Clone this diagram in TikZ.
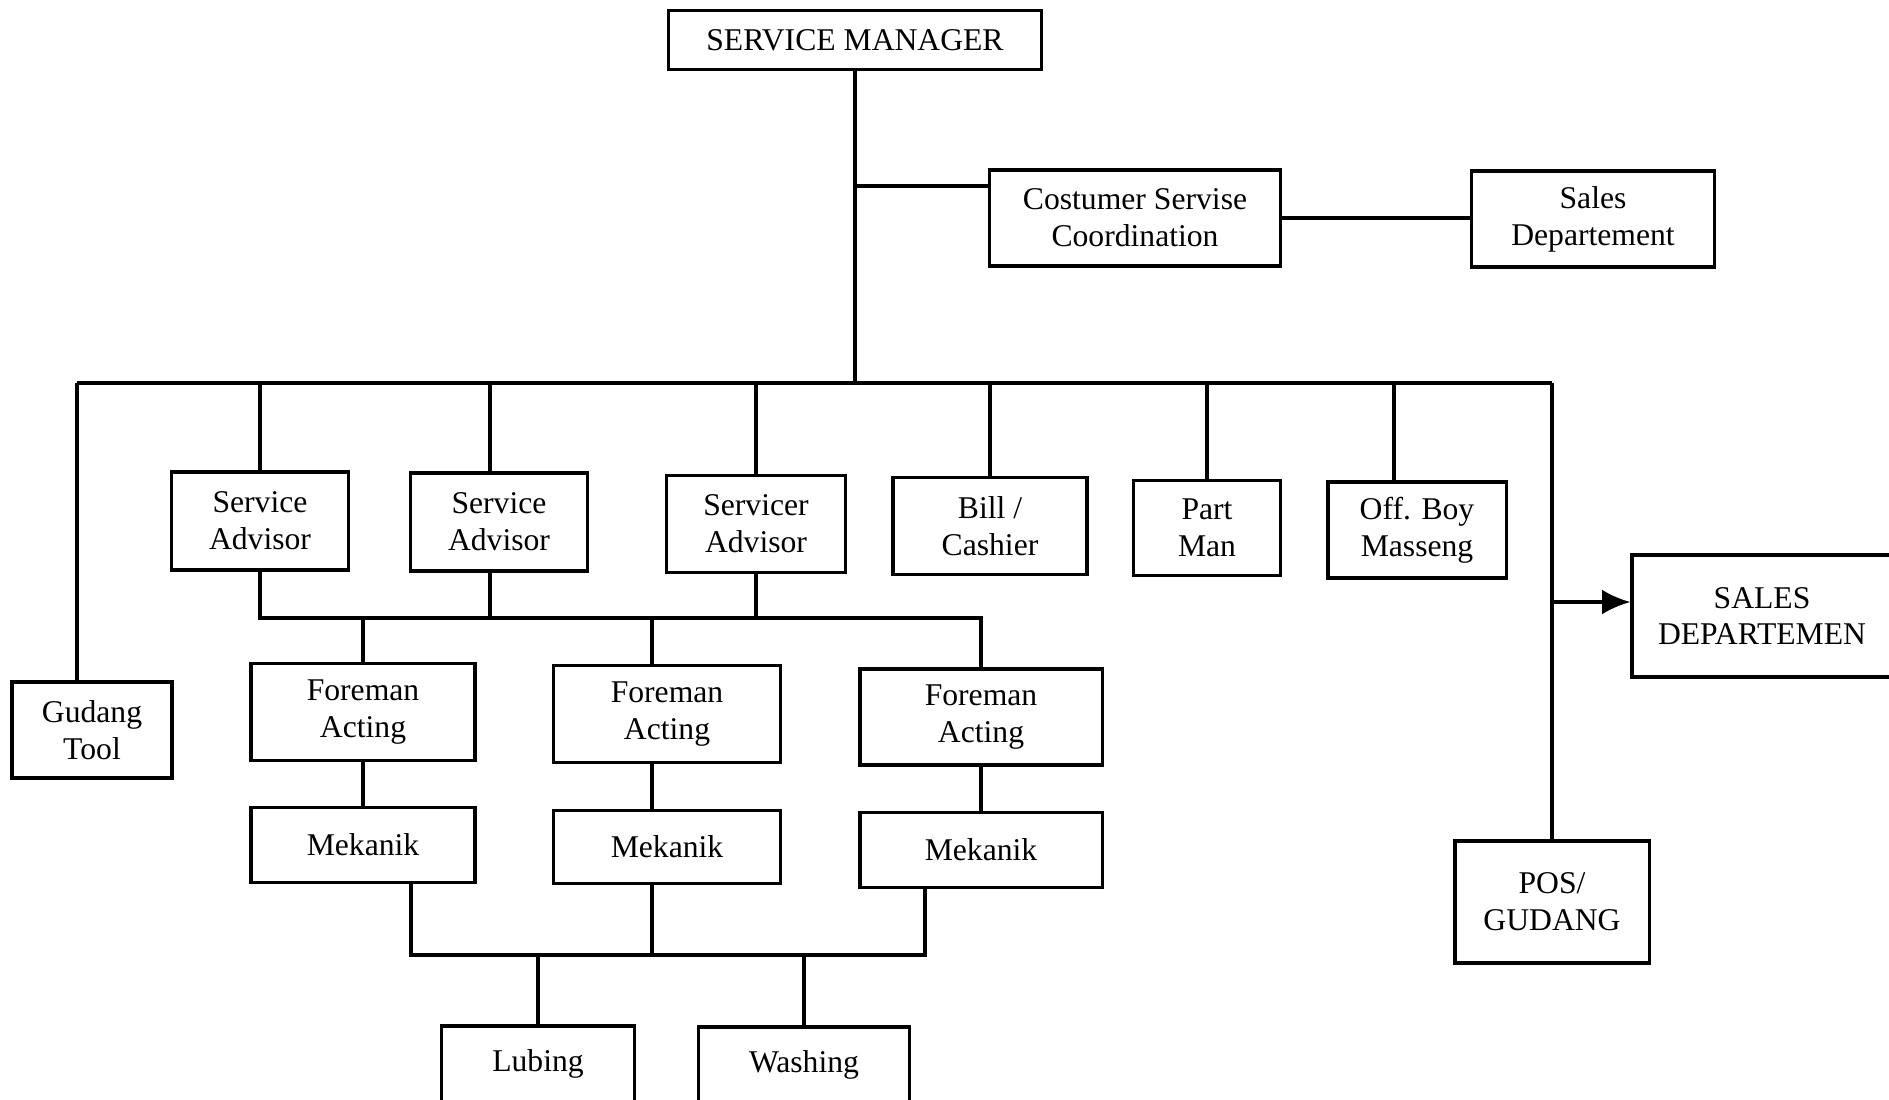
\documentclass[tikz,border=0pt]{standalone}
\usepackage{fontspec}
\setmainfont{Liberation Serif}
\usetikzlibrary{arrows.meta}

\begin{document}
\begin{tikzpicture}[x=0.01cm, y=-0.01cm, line width=0.9pt,
    box/.style={draw, line width=0.9pt, align=center, inner sep=0pt,
        font=\fontsize{9}{10.5}\selectfont}]
    \useasboundingbox (0,0) rectangle (1889,1099);
    % top
    \node (mgr) at (855,40) [box, minimum width=3.72cm, minimum height=0.59cm] {SERVICE MANAGER};
    \node (cust) at (1135,218) [box, minimum width=2.91cm, minimum height=0.96cm] {Costumer Servise\\Coordination};
    \node (sales) at (1593,219) [box, minimum width=2.43cm, minimum height=0.96cm] {Sales\\Departement};
    % first row
    \node (tool) at (92,730) [box, minimum width=1.60cm, minimum height=0.96cm] {Gudang\\Tool};
    \node (adv1) at (260,521) [box, minimum width=1.77cm, minimum height=0.98cm] {Service\\Advisor};
    \node (adv2) at (499,522) [box, minimum width=1.77cm, minimum height=0.98cm] {Service\\Advisor};
    \node (adv3) at (756,524) [box, minimum width=1.79cm, minimum height=0.97cm] {Servicer\\Advisor};
    \node (bill) at (990,526) [box, minimum width=1.94cm, minimum height=0.97cm] {Bill /\\Cashier};
    \node (part) at (1207,528) [box, minimum width=1.47cm, minimum height=0.95cm] {Part\\Man};
    \node (boy) at (1417,530) [box, minimum width=1.78cm, minimum height=0.96cm] {Off. Boy\\Masseng};
    \node (dept) at (1762,616) [box, minimum width=2.60cm, minimum height=1.22cm] {SALES\\DEPARTEMEN};
    \node (pos) at (1552,902) [box, minimum width=1.94cm, minimum height=1.22cm] {POS/\\GUDANG};
    % foreman and mekanik
    \node (fore1) at (363,712) [box, minimum width=2.24cm, minimum height=0.97cm] {Foreman\\Acting};
    \node (fore2) at (667,714) [box, minimum width=2.27cm, minimum height=0.97cm] {Foreman\\Acting};
    \node (fore3) at (981,717) [box, minimum width=2.42cm, minimum height=0.96cm] {Foreman\\Acting};
    \node (mek1) at (363,845) [box, minimum width=2.24cm, minimum height=0.75cm] {Mekanik};
    \node (mek2) at (667,847) [box, minimum width=2.27cm, minimum height=0.73cm] {Mekanik};
    \node (mek3) at (981,850) [box, minimum width=2.42cm, minimum height=0.75cm] {Mekanik};
    \node (lub) at (538,1064) [box, minimum width=1.93cm, minimum height=0.76cm] {Lubing};
    \node (wash) at (804,1065) [box, minimum width=2.11cm, minimum height=0.76cm] {Washing};

    % manager lines
    \coordinate (busL) at (77,383);
    \coordinate (busR) at (1552,383);
    \coordinate (custin) at ([yshift=0.32cm]cust.west);
    \draw (mgr.south) -- (mgr.south |- busL);
    \draw (custin) -- (custin -| mgr.south);
    \draw (cust.east) -- (cust.east -| sales.west);
    \draw (busL) -- (busR);
    \draw (busL) -- (busL |- tool.north);
    \foreach \n in {adv1,adv3,bill,part}
        \draw (\n.north) -- (\n.north |- busL);
    \draw ([xshift=-0.09cm]adv2.north) -- ([xshift=-0.09cm]adv2.north |- busL);
    \draw ([xshift=-0.23cm]boy.north) -- ([xshift=-0.23cm]boy.north |- busL);
    \draw (busR) -- (pos.north);
    \coordinate (deptin) at ([yshift=0.14cm]dept.west);
    \draw [-{Latex[length=8pt,width=7pt]}] (deptin -| busR) -- (deptin);

    % advisor to foreman
    \coordinate (busA) at (0,618);
    \coordinate (col2) at ([xshift=-0.15cm]fore2.north);
    \draw (adv1.south) -- (adv1.south |- busA) -- (fore3.north |- busA) -- (fore3.north);
    \draw ([xshift=-0.09cm]adv2.south) -- ([xshift=-0.09cm]adv2.south |- busA);
    \draw (adv3.south) -- (adv3.south |- busA);
    \draw (fore1.north) -- (fore1.north |- busA);
    \draw (col2) -- (col2 |- busA);
    \draw (fore1) -- (mek1);
    \draw (col2 |- fore2.south) -- (col2 |- mek2.north);
    \draw (fore3) -- (mek3);

    % mekanik to lubing and washing
    \coordinate (busB) at (0,955);
    \coordinate (mekL) at ([xshift=0.48cm]mek1.south);
    \coordinate (mekR) at ([xshift=-0.56cm]mek3.south);
    \draw (mekL) -- (mekL |- busB) -- (mekR |- busB) -- (mekR);
    \draw (col2 |- mek2.south) -- (col2 |- busB);
    \draw (lub.north) -- (lub.north |- busB);
    \draw (wash.north) -- (wash.north |- busB);
\end{tikzpicture}
\end{document}
